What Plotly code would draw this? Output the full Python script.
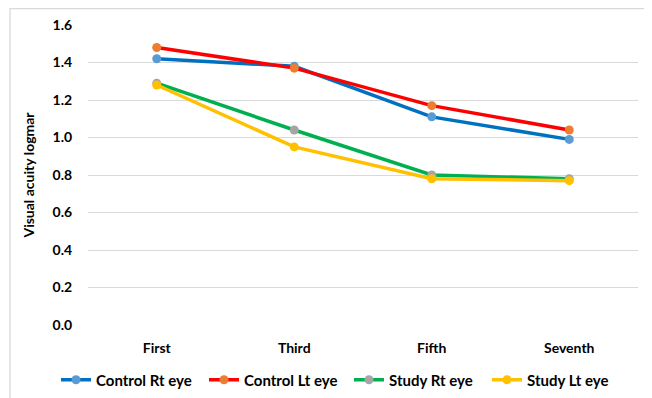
import plotly.graph_objects as go

visits = ["First", "Third", "Fifth", "Seventh"]
control_rt = [1.42, 1.38, 1.11, 0.99]
control_lt = [1.48, 1.37, 1.17, 1.04]
study_rt = [1.29, 1.04, 0.80, 0.78]
study_lt = [1.28, 0.95, 0.78, 0.77]
y_ticks = [0.0, 0.2, 0.4, 0.6, 0.8, 1.0, 1.2, 1.4, 1.6]

series = [
    ("Control Rt eye", control_rt, "#0070C0", "#5B9BD5"),
    ("Control Lt eye", control_lt, "#FF0000", "#ED7D31"),
    ("Study Rt eye", study_rt, "#00B050", "#A5A5A5"),
    ("Study Lt eye", study_lt, "#FFC000", "#FFC000"),
]

FONT = "Lato, Calibri, Carlito, sans-serif"
# page has an 8px body margin, so figure coords = page coords - 8
OFF = 8
W, H = 652, 398
L, T = 88 - OFF, 25 - OFF
R = W - (638 - OFF)
B = H - (325 - OFF)
pw, ph = W - L - R, H - T - B

bold = dict(family=FONT, size=14, color="#000", weight="bold")
legfont = dict(family=FONT, size=15, color="#000", weight="bold")

legend_line_starts = [62, 210, 355, 493]  # page px of each legend entry

fig = go.Figure()
legends = {}
for i, (name, vals, lc, mc) in enumerate(series):
    key = "legend" if i == 0 else f"legend{i + 1}"
    fig.add_trace(go.Scatter(
        x=visits, y=vals, name=name, mode="lines+markers",
        line=dict(color=lc, width=3.5),
        marker=dict(color=mc, size=9),
        legend=key,
    ))
    legends[key] = dict(orientation="h", xref="container", yref="container",
                        x=(legend_line_starts[i] - OFF - 6) / W, xanchor="left",
                        y=1 - (380 - OFF) / H, yanchor="middle",
                        font=legfont, itemwidth=30, bgcolor="rgba(0,0,0,0)")

fig.update_layout(
    width=W, height=H,
    margin=dict(l=L, r=R, t=T, b=B, autoexpand=False),
    paper_bgcolor="white", plot_bgcolor="white",
    font=dict(family=FONT, size=13, color="#000000"),
    showlegend=True,
    xaxis=dict(
        type="category", showgrid=False, zeroline=False, showline=False,
        automargin=False,
        ticks="outside", ticklen=10, tickcolor="rgba(0,0,0,0)",
        tickfont=bold,
        range=[-0.5, 3.5],
    ),
    yaxis=dict(
        range=[0, 1.6], tickvals=y_ticks, ticktext=[f"{v:.1f}" for v in y_ticks],
        showgrid=True, gridcolor="#D9D9D9", gridwidth=1.3,
        zeroline=False, showline=False, automargin=False,
        ticks="outside", ticklen=12, tickcolor="rgba(0,0,0,0)",
        tickfont=bold,
        title=dict(text="Visual acuity logmar", font=dict(family=FONT, size=14, color="#000", weight="bold"), standoff=14),
    ),
    **legends,
)

# outer chart frame (top-left at page (10, 8))
fig.add_shape(type="rect", xref="paper", yref="paper",
              x0=(10 - 88) / pw, x1=(W + 20 - 88) / pw,
              y0=-(H + 20 - 325) / ph, y1=(325 - 8.5) / ph,
              line=dict(color="#D9D9D9", width=1.3), fillcolor="rgba(0,0,0,0)", layer="below")

fig.write_html("out.html")
